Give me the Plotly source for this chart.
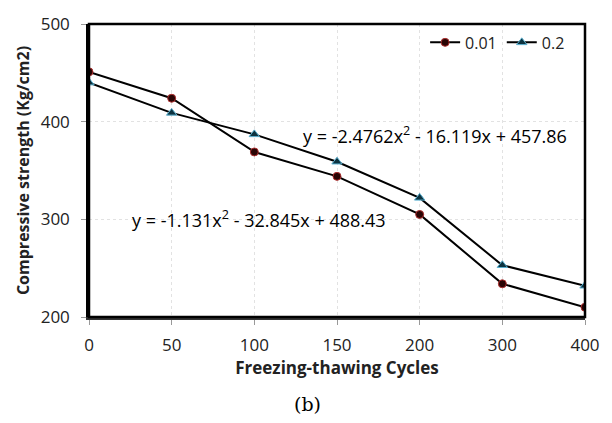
import plotly.graph_objects as go

cycles = ["0", "50", "100", "150", "200", "300", "400"]
s001 = [451, 424, 369, 344, 305, 234, 210]
s02 = [440, 409, 387, 359, 322, 253, 232]
eq1 = "y = -2.4762x<sup>2</sup> - 16.119x + 457.86"
eq2 = "y = -1.131x<sup>2</sup> - 32.845x + 488.43"

FONT = "Open Sans"
fig = go.Figure()
fig.add_trace(go.Scatter(x=cycles, y=s001, mode="lines+markers", name="0.01",
                         line=dict(color="black", width=2),
                         marker=dict(symbol="circle", size=8, color="#2a0505",
                                     line=dict(color="#b03030", width=1))))
fig.add_trace(go.Scatter(x=cycles, y=s02, mode="lines+markers", name="0.2",
                         line=dict(color="black", width=2),
                         marker=dict(symbol="triangle-up", size=9, color="#0d3340",
                                     line=dict(color="#5ab0d0", width=1))))

fig.add_annotation(x=4.18, y=386, xref="x", yref="y", text=eq1, showarrow=False,
                   font=dict(family=FONT, size=18, color="black"))
fig.add_annotation(x=2.06, y=300, xref="x", yref="y", text=eq2, showarrow=False,
                   font=dict(family=FONT, size=18, color="black"))
fig.add_annotation(x=0.44, y=-0.297, xref="paper", yref="paper", text="(b)",
                   showarrow=False, yanchor="middle", xanchor="center",
                   font=dict(family="DejaVu Serif", size=19, color="black"))

fig.add_shape(type="rect", xref="paper", yref="paper", x0=0, y0=0, x1=1, y1=1,
              line=dict(color="black", width=2.5))

fig.update_layout(
    width=612, height=423,
    margin=dict(l=89, r=23, t=14, b=106),
    paper_bgcolor="white", plot_bgcolor="white",
    font=dict(family=FONT, size=17, color="#222222"),
    showlegend=True,
    legend=dict(orientation="h", x=0.97, y=0.995, xanchor="right", yanchor="top",
                bgcolor="rgba(0,0,0,0)", font=dict(size=16), itemwidth=30,
                tracegroupgap=0),
    xaxis=dict(type="category", range=[0, 6], showgrid=True, gridcolor="#e2e2e2",
               griddash="dot", gridwidth=1, showline=True, linecolor="#333333",
               linewidth=3, ticks="outside", ticklen=5, tickcolor="#999999",
               ticklabelstandoff=6, tickfont=dict(size=17),
               title=dict(text="<b>Freezing-thawing Cycles</b>", font=dict(size=17),
                          standoff=6),
               zeroline=False),
    yaxis=dict(range=[200, 500], dtick=100, showgrid=True, gridcolor="#e2e2e2",
               griddash="dot", gridwidth=1, showline=True, linecolor="black",
               linewidth=2.5, ticks="outside", ticklen=5, tickcolor="#999999",
               ticklabelstandoff=8, tickfont=dict(size=17),
               title=dict(text="<b>Compressive strength (Kg/cm2)</b>",
                          font=dict(size=16), standoff=8),
               zeroline=False),
)
fig.write_html("out.html")
